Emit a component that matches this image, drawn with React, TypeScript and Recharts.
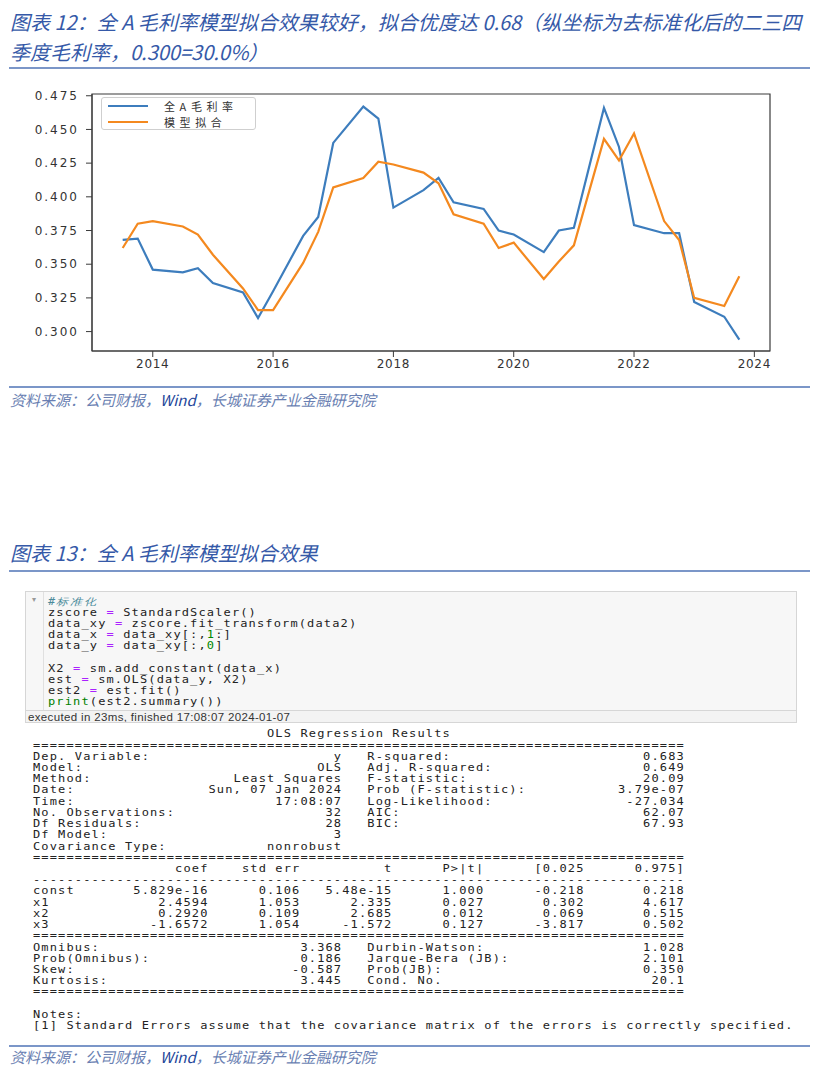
import React from "react";
import { LineChart, Line, XAxis, YAxis, ReferenceArea, Legend } from "recharts";

// quarter-end dates (Q2, Q3, Q4) as fractional years
const quarters = [
  2013.5, 2013.75, 2014.0, 2014.5, 2014.75, 2015.0, 2015.5, 2015.75,
  2016.0, 2016.5, 2016.75, 2017.0, 2017.5, 2017.75, 2018.0, 2018.5,
  2018.75, 2019.0, 2019.5, 2019.75, 2020.0, 2020.5, 2020.75, 2021.0,
  2021.5, 2021.75, 2022.0, 2022.5, 2022.75, 2023.0, 2023.5, 2023.75,
];

const actualMargin = [
  0.368, 0.369, 0.346, 0.344, 0.347, 0.336, 0.329, 0.310,
  0.330, 0.371, 0.385, 0.440, 0.467, 0.458, 0.392, 0.405,
  0.414, 0.396, 0.391, 0.375, 0.372, 0.359, 0.375, 0.377,
  0.466, 0.437, 0.379, 0.373, 0.373, 0.322, 0.311, 0.294,
];

const modelFit = [
  0.362, 0.380, 0.382, 0.378, 0.372, 0.357, 0.332, 0.316,
  0.316, 0.351, 0.374, 0.407, 0.414, 0.426, 0.424, 0.418,
  0.410, 0.387, 0.380, 0.362, 0.366, 0.339, 0.352, 0.364,
  0.443, 0.427, 0.447, 0.382, 0.368, 0.325, 0.319, 0.341,
];

const xTicks = [2014, 2016, 2018, 2020, 2022, 2024];
const yTicks = [0.3, 0.325, 0.35, 0.375, 0.4, 0.425, 0.45, 0.475];

const X_DOMAIN = [2012.99, 2024.26];
const Y_DOMAIN = [0.2856, 0.4763];

const BLUE = "#3d7dbd";
const ORANGE = "#f4891f";

const chartData = quarters.map((t, i) => ({
  t,
  actual: actualMargin[i],
  model: modelFit[i],
}));

const CJK = '"Noto Sans CJK SC", "Noto Sans", sans-serif';
const MONO = '"DejaVu Sans Mono", "Liberation Mono", monospace';
const RULE = "#7b96c8";
const TITLE_BLUE = "#3559a8";
const LINE_H = 11.23;

// statsmodels summary text
const W = 78;
const row2 = (l1: string, v1: string, l2 = "", v2 = "") =>
  l1 + v1.padStart(37 - l1.length) + (l2 ? "   " + l2 + v2.padStart(38 - l2.length) : "");
const coefRow = (n: string, c: string, se: string, t: string, p: string, lo: string, hi: string) =>
  n + c.padStart(21 - n.length) + se.padStart(11) + t.padStart(11) + p.padStart(11) + lo.padStart(12) + hi.padStart(12);

const summaryLines = [
  " ".repeat(28) + "OLS Regression Results",
  "=".repeat(W),
  row2("Dep. Variable:", "y", "R-squared:", "0.683"),
  row2("Model:", "OLS", "Adj. R-squared:", "0.649"),
  row2("Method:", "Least Squares", "F-statistic:", "20.09"),
  row2("Date:", "Sun, 07 Jan 2024", "Prob (F-statistic):", "3.79e-07"),
  row2("Time:", "17:08:07", "Log-Likelihood:", "-27.034"),
  row2("No. Observations:", "32", "AIC:", "62.07"),
  row2("Df Residuals:", "28", "BIC:", "67.93"),
  row2("Df Model:", "3"),
  row2("Covariance Type:", "nonrobust"),
  "=".repeat(W),
  coefRow("", "coef", "std err", "t", "P>|t|", "[0.025", "0.975]"),
  "-".repeat(W),
  coefRow("const", "5.829e-16", "0.106", "5.48e-15", "1.000", "-0.218", "0.218"),
  coefRow("x1", "2.4594", "1.053", "2.335", "0.027", "0.302", "4.617"),
  coefRow("x2", "0.2920", "0.109", "2.685", "0.012", "0.069", "0.515"),
  coefRow("x3", "-1.6572", "1.054", "-1.572", "0.127", "-3.817", "0.502"),
  "=".repeat(W),
  row2("Omnibus:", "3.368", "Durbin-Watson:", "1.028"),
  row2("Prob(Omnibus):", "0.186", "Jarque-Bera (JB):", "2.101"),
  row2("Skew:", "-0.587", "Prob(JB):", "0.350"),
  row2("Kurtosis:", "3.445", "Cond. No.", "20.1"),
  "=".repeat(W),
  "",
  "Notes:",
  "[1] Standard Errors assume that the covariance matrix of the errors is correctly specified.",
];

const CODE_COLORS: Record<string, React.CSSProperties> = {
  comment: { color: "#4a8a9a", fontStyle: "italic" },
  op: { color: "#aa22ff" },
  num: { color: "#008800" },
  kw: { color: "#008000" },
};

const codeLines: [string, string?][][] = [
  [["#标准化", "comment"]],
  [["zscore "], ["=", "op"], [" StandardScaler()"]],
  [["data_xy "], ["=", "op"], [" zscore.fit_transform(data2)"]],
  [["data_x "], ["=", "op"], [" data_xy[:,"], ["1", "num"], [":]"]],
  [["data_y "], ["=", "op"], [" data_xy[:,"], ["0", "num"], ["]"]],
  [],
  [["X2 "], ["=", "op"], [" sm.add_constant(data_x)"]],
  [["est "], ["=", "op"], [" sm.OLS(data_y, X2)"]],
  [["est2 "], ["=", "op"], [" est.fit()"]],
  [["print", "kw"], ["(est2.summary())"]],
];

// mono text is drawn narrow-high and widened by scaleX so rows keep 11.2px pitch
const SCALE_X = 1.25;
const monoText: React.CSSProperties = {
  fontFamily: MONO,
  fontSize: 9.6,
  letterSpacing: 0.91,
  lineHeight: `${LINE_H}px`,
  height: LINE_H,
  whiteSpace: "pre",
  color: "#222",
};
const monoBlock = (left: number, top: number): React.CSSProperties => ({
  position: "absolute",
  left,
  top,
  transform: `scaleX(${SCALE_X})`,
  transformOrigin: "0 0",
});

function Rule({ top }: { top: number }) {
  return <div style={{ position: "absolute", left: 9, top, width: 801, height: 2, background: RULE }} />;
}

function Source({ top }: { top: number }) {
  return (
    <div style={{ position: "absolute", left: 10, top, fontFamily: CJK, fontSize: 15, fontStyle: "italic", color: "#6a7fb2", whiteSpace: "nowrap", lineHeight: "18px" }}>
      资料来源：公司财报，<span style={{ color: "#23469a" }}>Wind</span>，长城证券产业金融研究院
    </div>
  );
}

const LegendBox = (props: any) => {
  const { payload = [] } = props;
  return (
    <div style={{ border: "1px solid #cfcfcf", borderRadius: 3, background: "#fff", width: 155, height: 33, boxSizing: "border-box" }}>
      {payload.map((p: any) => (
        <div key={p.value} style={{ display: "flex", alignItems: "center", height: 16 }}>
          <span style={{ display: "inline-block", marginLeft: 6, width: 40, borderTop: `2px solid ${p.color}` }} />
          <span style={{ marginLeft: 16, fontFamily: CJK, fontSize: 11, letterSpacing: 4.6, color: "#333", lineHeight: "16px" }}>{p.value}</span>
        </div>
      ))}
    </div>
  );
};

const xTickStyle = { fontSize: 12, fill: "#333", fontFamily: "DejaVu Sans", letterSpacing: 0.7 };
const yTickStyle = { fontSize: 12, fill: "#333", fontFamily: "DejaVu Sans", letterSpacing: 2 };

export default function App() {
  return (
    <div style={{ position: "absolute", left: 0, top: 0, width: 813, height: 1077, background: "#fff", overflow: "hidden" }}>
      <div style={{ position: "absolute", left: 10, top: 10, fontFamily: CJK, fontSize: 20, fontStyle: "italic", color: TITLE_BLUE, whiteSpace: "nowrap", lineHeight: "24px" }}>
        图表 12：全 A 毛利率模型拟合效果较好，拟合优度达 0.68（纵坐标为去标准化后的二三四
      </div>
      <div style={{ position: "absolute", left: 10, top: 40, fontFamily: CJK, fontSize: 20, fontStyle: "italic", color: TITLE_BLUE, whiteSpace: "nowrap", lineHeight: "24px" }}>
        季度毛利率，0.300=30.0%）
      </div>
      <Rule top={67} />

      <div style={{ position: "absolute", left: 0, top: 80 }}>
        <LineChart width={800} height={300} data={chartData} margin={{ top: 14, right: 30, bottom: 0, left: 0 }}>
          <XAxis
            dataKey="t"
            type="number"
            domain={X_DOMAIN}
            ticks={xTicks}
            allowDataOverflow
            height={29}
            tick={xTickStyle}
            tickLine={{ stroke: "#3a3a3a" }}
            axisLine={{ stroke: "#3a3a3a" }}
          />
          <YAxis
            type="number"
            domain={Y_DOMAIN}
            ticks={yTicks}
            allowDataOverflow
            width={92}
            tick={yTickStyle}
            tickMargin={7}
            tickFormatter={(v: number) => v.toFixed(3)}
            tickLine={{ stroke: "#3a3a3a" }}
            axisLine={{ stroke: "#3a3a3a" }}
          />
          <ReferenceArea x1={X_DOMAIN[0]} x2={X_DOMAIN[1]} y1={Y_DOMAIN[0]} y2={Y_DOMAIN[1]} fill="none" stroke="#3a3a3a" strokeWidth={1.2} />
          <Legend
            layout="vertical"
            align="center"
            verticalAlign="middle"
            wrapperStyle={{ left: 101, top: 17, width: 155 }}
            content={<LegendBox />}
          />
          <Line type="linear" dataKey="actual" name="全A毛利率" stroke={BLUE} strokeWidth={2.2} dot={false} isAnimationActive={false} />
          <Line type="linear" dataKey="model" name="模型拟合" stroke={ORANGE} strokeWidth={2.2} dot={false} isAnimationActive={false} />
        </LineChart>
      </div>

      <Rule top={386} />
      <Source top={391} />

      <div style={{ position: "absolute", left: 10, top: 541, fontFamily: CJK, fontSize: 20, fontStyle: "italic", color: TITLE_BLUE, whiteSpace: "nowrap", lineHeight: "24px" }}>
        图表 13：全 A 毛利率模型拟合效果
      </div>
      <Rule top={570} />

      {/* notebook cell */}
      <div style={{ position: "absolute", left: 25, top: 591, width: 772, height: 132, border: "1px solid #d6d6d6", background: "#f7f7f7", boxSizing: "border-box" }}>
        <div style={{ position: "absolute", left: 17, top: 0, width: 1, height: 118, background: "#e0e0e0" }} />
        <div style={{ position: "absolute", left: 6, top: 3, fontSize: 8, color: "#999", fontFamily: "DejaVu Sans" }}>▾</div>
        <div style={monoBlock(22, 3.5)}>
          {codeLines.map((segs, i) => (
            <div key={i} style={monoText}>
              {segs.length === 0 ? "\u00a0" : segs.map(([txt, kind], j) => (
                <span key={j} style={kind ? CODE_COLORS[kind] : undefined}>{txt}</span>
              ))}
            </div>
          ))}
        </div>
        <div style={{ position: "absolute", left: 0, top: 118, width: 770, height: 12, borderTop: "1px solid #d6d6d6", background: "#f3f3f3", fontFamily: "Liberation Sans, Arial, sans-serif", fontSize: 11.5, letterSpacing: 0.35, lineHeight: "12px", color: "#333", paddingLeft: 2, boxSizing: "border-box", whiteSpace: "nowrap", overflow: "hidden" }}>
          executed in 23ms, finished 17:08:07 2024-01-07
        </div>
      </div>

      <div style={monoBlock(33, 728.4)}>
        {summaryLines.map((ln, i) => (
          <div key={i} style={monoText}>{ln === "" ? "\u00a0" : ln}</div>
        ))}
      </div>

      <Rule top={1045} />
      <Source top={1048} />
    </div>
  );
}
